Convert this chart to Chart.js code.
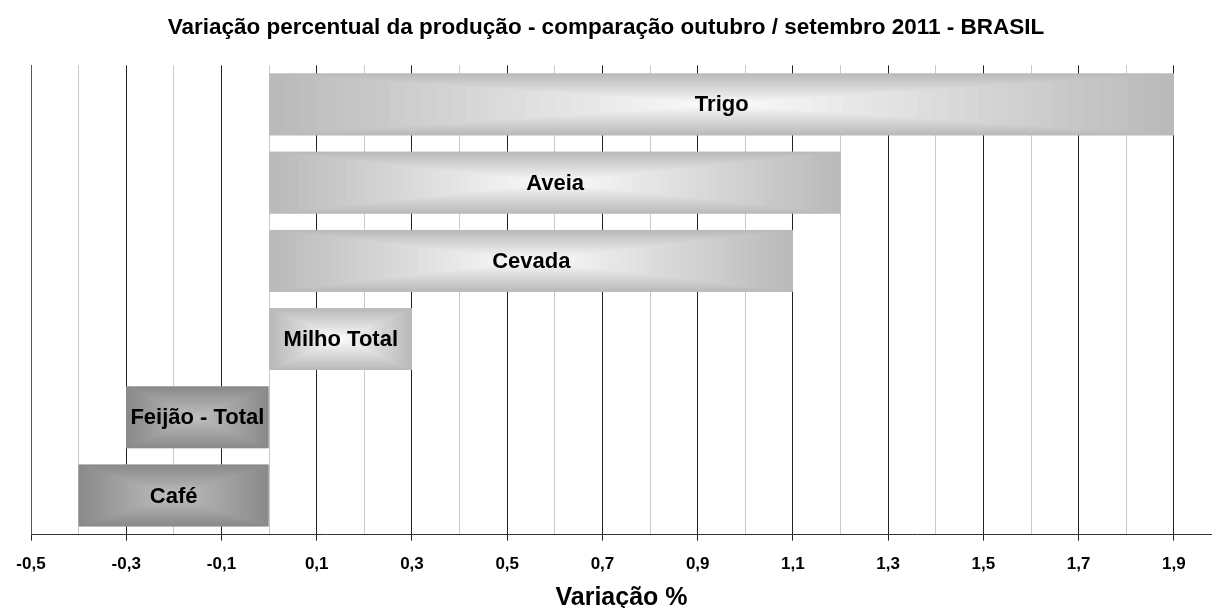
<!DOCTYPE html>
<html>
<head>
<meta charset="utf-8">
<script src="https://cdn.jsdelivr.net/npm/chart.js@4.4.1/dist/chart.umd.min.js"></script>
<style>
  html, body { margin: 0; padding: 0; background: #fff; }
  #wrap { width: 1212px; height: 608px; }
</style>
</head>
<body>
<div id="wrap"><canvas id="grafico"></canvas></div>
<script>
// dados
var categorias = ['Trigo', 'Aveia', 'Cevada', 'Milho Total', 'Feijão - Total', 'Café'];
var variacao = [1.9, 1.2, 1.1, 0.3, -0.3, -0.4];
var eixoMin = -0.5;
var eixoMax = 1.98;
var ultimoTick = 1.9;
var passo = 0.1;

var fonte = '"Liberation Sans", Arial, sans-serif';

function ehPrincipal(v) {
  return Math.round((v - eixoMin) * 10) % 2 === 0;
}

function mistura(a, b, t) {
  var r = Math.round(a[0] + (b[0] - a[0]) * t);
  var g = Math.round(a[1] + (b[1] - a[1]) * t);
  var bl = Math.round(a[2] + (b[2] - a[2]) * t);
  return 'rgb(' + r + ',' + g + ',' + bl + ')';
}

// preenchimento "do centro" como no Excel + rotulo dentro da barra
var barrasPlugin = {
  id: 'barras',
  afterDatasetsDraw: function(chart) {
    var ctx = chart.ctx;
    var meta = chart.getDatasetMeta(0);
    meta.data.forEach(function(bar, i) {
      var p = bar.getProps(['x', 'y', 'base', 'height'], true);
      var esq = Math.min(p.x, p.base);
      var larg = Math.abs(p.x - p.base);
      var cx = esq + larg / 2;
      var cy = p.y;
      var borda, centro;
      if (variacao[i] >= 0) { borda = [186, 186, 186]; centro = [250, 250, 250]; }
      else { borda = [138, 138, 138]; centro = [190, 190, 190]; }
      var n = 30;
      ctx.save();
      for (var k = 0; k < n; k++) {
        var s = 1 - k / n;
        ctx.fillStyle = mistura(borda, centro, k / (n - 1));
        ctx.fillRect(cx - larg * s / 2, cy - p.height * s / 2, larg * s, p.height * s);
      }
      ctx.fillStyle = '#000';
      ctx.font = 'bold 22px ' + fonte;
      ctx.textAlign = 'center';
      ctx.textBaseline = 'middle';
      ctx.fillText(categorias[i], cx, cy + 1);
      ctx.restore();
    });
  }
};

new Chart(document.getElementById('grafico'), {
  type: 'bar',
  data: {
    labels: categorias,
    datasets: [{
      data: variacao,
      backgroundColor: '#bababa',
      borderWidth: 0,
      categoryPercentage: 1,
      barPercentage: 0.79
    }]
  },
  options: {
    indexAxis: 'y',
    responsive: true,
    maintainAspectRatio: false,
    animation: false,
    layout: { padding: 0 },
    plugins: {
      legend: { display: false },
      tooltip: { enabled: false },
      title: {
        display: true,
        text: 'Variação percentual da produção - comparação outubro / setembro 2011 - BRASIL',
        color: '#000',
        font: { family: fonte, size: 22.5, weight: 'bold', lineHeight: 1.17 },
        padding: { top: 15, bottom: 24 }
      }
    },
    scales: {
      x: {
        type: 'linear',
        min: eixoMin,
        max: eixoMax,
        afterBuildTicks: function(scale) {
          var lista = [];
          var n = Math.round((ultimoTick - eixoMin) / passo);
          for (var i = 0; i <= n; i++) {
            lista.push({ value: Math.round((eixoMin + i * passo) * 10) / 10 });
          }
          scale.ticks = lista;
        },
        ticks: {
          stepSize: passo,
          autoSkip: false,
          maxRotation: 0,
          padding: 14,
          color: '#000',
          font: { family: fonte, size: 17, weight: 'bold' },
          callback: function(v) {
            return ehPrincipal(v) ? v.toFixed(1).replace('.', ',') : '';
          }
        },
        grid: {
          lineWidth: 1,
          tickLength: 6,
          color: function(c) {
            return c.tick && ehPrincipal(c.tick.value) ? '#222222' : '#c8c8c8';
          },
          tickColor: function(c) {
            return c.tick && ehPrincipal(c.tick.value) ? '#222222' : 'rgba(0,0,0,0)';
          }
        },
        border: { display: true, color: '#333333', width: 1 },
        title: {
          display: true,
          text: 'Variação %',
          color: '#000',
          font: { family: fonte, size: 25, weight: 'bold', lineHeight: 0.76 },
          padding: { top: 0, bottom: 0 }
        }
      },
      y: {
        afterFit: function(scale) { scale.width = 31; },
        ticks: { display: false },
        grid: { display: true, color: 'rgba(0,0,0,0)', drawTicks: false },
        border: { display: true, color: '#555555', width: 1 }
      }
    }
  },
  plugins: [barrasPlugin]
});
</script>
</body>
</html>
